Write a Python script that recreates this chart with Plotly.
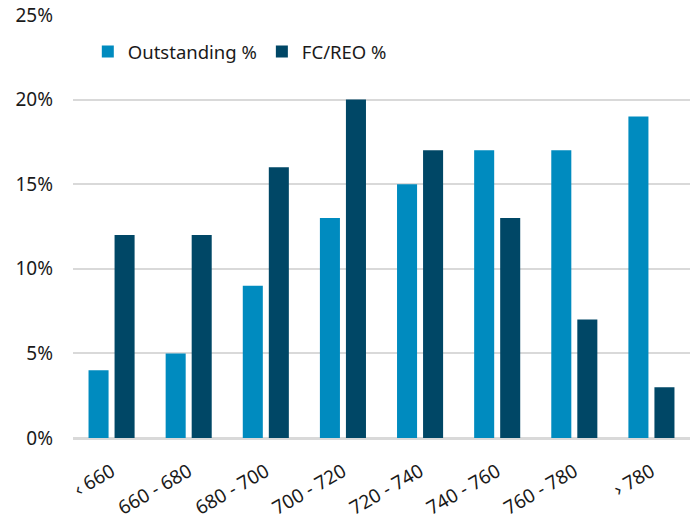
import plotly.graph_objects as go

# FICO score buckets and their share of loans
categories = ["‹ 660", "660 - 680", "680 - 700", "700 - 720", "720 - 740", "740 - 760", "760 - 780", "› 780"]
outstanding_pct = [4, 5, 9, 13, 15, 17, 17, 19]
fc_reo_pct = [12, 12, 16, 20, 17, 13, 7, 3]
y_ticks = [0, 5, 10, 15, 20, 25]

FONT = "Noto Sans, Open Sans, sans-serif"

fig = go.Figure()
fig.add_trace(go.Bar(x=categories, y=outstanding_pct, name="Outstanding %",
                     marker=dict(color="#008BBF", line=dict(width=0))))
fig.add_trace(go.Bar(x=categories, y=fc_reo_pct, name="FC/REO %",
                     marker=dict(color="#004766", line=dict(width=0))))

fig.update_layout(
    width=690, height=521,
    margin=dict(l=73, r=0, t=15, b=83),
    paper_bgcolor="white", plot_bgcolor="white",
    barmode="group", bargap=0.325, bargroupgap=0.23,
    font=dict(family=FONT, size=19, color="#1a1a1a"),
    legend=dict(orientation="h", x=0.024, y=0.9125, xanchor="left", yanchor="middle",
                font=dict(size=18.5), itemwidth=30, tracegroupgap=0,
                bgcolor="rgba(0,0,0,0)"),
    xaxis=dict(tickangle=-30, showgrid=False, ticks="", showline=False,
               ticklabelstandoff=18, tickfont=dict(size=19)),
    yaxis=dict(range=[0, 25], tickvals=y_ticks, ticktext=[f"{v}%" for v in y_ticks],
               showgrid=True, gridcolor="#D9D9D9", gridwidth=2,
               zeroline=True, zerolinecolor="#D9D9D9", zerolinewidth=3,
               ticks="", ticklabelstandoff=19, tickfont=dict(size=19)),
)

fig.write_html("out.html")
